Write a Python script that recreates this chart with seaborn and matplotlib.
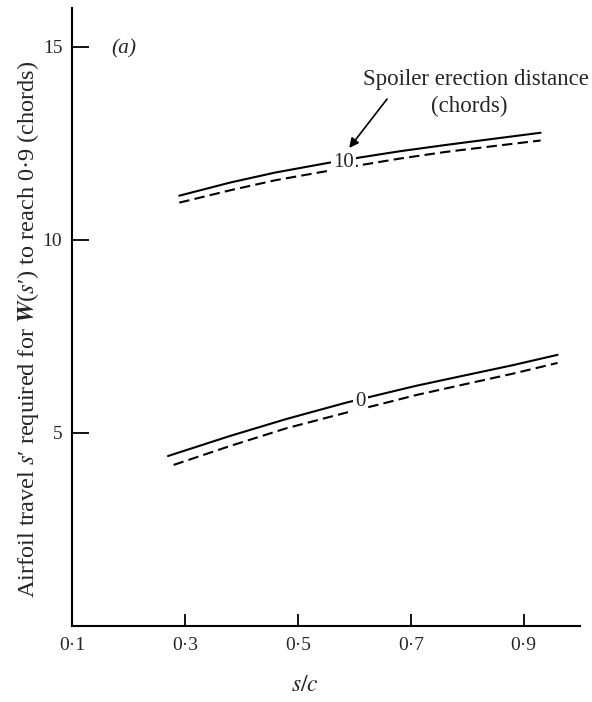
import numpy as np
import pandas as pd
import matplotlib
matplotlib.use("Agg")
import matplotlib.pyplot as plt
import seaborn as sns

# curves: s/c against airfoil travel s' (chords)
s_top_solid = [0.29, 0.38, 0.46, 0.55, 0.61, 0.68, 0.76, 0.85, 0.93]
v_top_solid = [11.14, 11.48, 11.74, 11.98, 12.13, 12.29, 12.45, 12.62, 12.77]
s_top_dash = [0.29, 0.38, 0.46, 0.56, 0.61, 0.68, 0.76, 0.85, 0.93]
v_top_dash = [10.96, 11.28, 11.54, 11.80, 11.93, 12.10, 12.27, 12.43, 12.57]
s_low_solid = [0.27, 0.38, 0.48, 0.585, 0.633, 0.71, 0.79, 0.88, 0.96]
v_low_solid = [4.40, 4.92, 5.36, 5.78, 5.95, 6.22, 6.47, 6.75, 7.02]
s_low_dash = [0.28, 0.38, 0.48, 0.59, 0.64, 0.71, 0.79, 0.88, 0.96]
v_low_dash = [4.17, 4.66, 5.12, 5.54, 5.72, 5.98, 6.24, 6.53, 6.81]

spoiler_labels = ['10', '0']
label_pos = [(0.581, 12.0), (0.611, 5.80)]

xticks = [0.1, 0.3, 0.5, 0.7, 0.9]
xtick_labels = ['0·1', '0·3', '0·5', '0·7', '0·9']
yticks = [5, 10, 15]

sns.set_style("ticks")
plt.rcParams['font.family'] = ['Liberation Serif', 'DejaVu Serif']
plt.rcParams['mathtext.fontset'] = 'stix'

fig = plt.figure(figsize=(5.92, 7.02), dpi=100)
ax = fig.add_axes([0.1216, 0.1083, 0.8584, 0.8803])

curves = [(s_top_solid, v_top_solid, '-'), (s_top_dash, v_top_dash, (0, (5, 2.5))),
          (s_low_solid, v_low_solid, '-'), (s_low_dash, v_low_dash, (0, (5, 2.5)))]
for s, v, ls in curves:
    sns.lineplot(x=s, y=v, ax=ax, color='black', linewidth=1.5, linestyle=ls, sort=True)

for lab, (x, y) in zip(spoiler_labels, label_pos):
    ax.text(x, y, lab, fontsize=15, ha='center', va='center',
            bbox=dict(facecolor='white', edgecolor='none', pad=1.5))

ax.text(0.816, 14.15, 'Spoiler erection distance', fontsize=16.5, ha='center', va='center')
ax.text(0.803, 13.45, '(chords)', fontsize=16.5, ha='center', va='center')
ax.annotate('', xy=(0.588, 12.32), xytext=(0.661, 13.70),
            arrowprops=dict(arrowstyle='-|>', color='black', lw=1.2, mutation_scale=14))
ax.text(0.192, 14.95, '(a)', fontsize=15.5, style='italic', ha='center', va='center')

ax.set_xlim(0.1, 1.0)
ax.set_ylim(0, 16)
ax.set_xticks(xticks)
ax.set_xticklabels(xtick_labels)
ax.set_yticks(yticks)
ax.tick_params(direction='in', labelsize=14, width=1.3, color='black')
ax.tick_params(axis='y', length=12, pad=7)
ax.tick_params(axis='x', length=9, pad=8)
for side in ['left', 'bottom']:
    ax.spines[side].set_linewidth(1.5)
    ax.spines[side].set_color('black')
sns.despine(ax=ax)

ax.set_xlabel(r'$s/c$', fontsize=17)
ax.xaxis.set_label_coords(0.459, -0.08)
ax.set_ylabel(r"Airfoil travel $s$′ required for $\boldsymbol{W}$($s$′) to reach 0·9 (chords)",
              fontsize=17.5)
ax.yaxis.set_label_coords(-0.060, 0.48)

fig.savefig('out.png', dpi=100, facecolor='white')
